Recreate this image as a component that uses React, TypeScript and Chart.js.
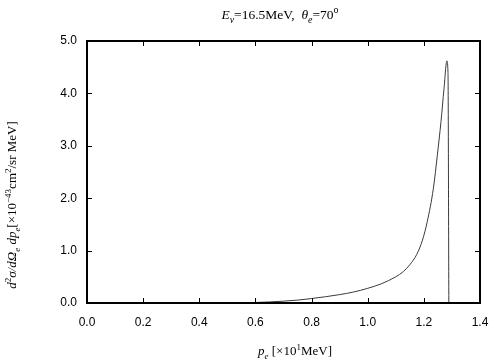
import React, { useEffect, useRef } from "react";
import { Chart, registerables } from "chart.js";

Chart.register(...registerables);

// momentum p_e [x10 MeV]
const momentum: number[] = [0.55, 0.6, 0.65, 0.7, 0.75, 0.8, 0.85, 0.9, 0.95, 1.0, 1.05, 1.1, 1.127, 1.15, 1.175, 1.195, 1.212, 1.234, 1.248, 1.261, 1.272, 1.282, 1.286, 1.289];
// cross section [x10^-43 cm^2/sr MeV]
const crossSection: number[] = [0.0, 0.01, 0.02, 0.035, 0.055, 0.085, 0.12, 0.16, 0.21, 0.28, 0.37, 0.5, 0.6, 0.73, 0.93, 1.2, 1.55, 2.19, 2.82, 3.46, 4.1, 4.62, 4.4, 0.0];

const xTicks: number[] = [0, 0.2, 0.4, 0.6, 0.8, 1.0, 1.2, 1.4];
const yTicks: number[] = [0, 1, 2, 3, 4, 5];

type Seg = { t: string; it?: boolean; sub?: boolean; sup?: boolean };

const titleSegs: Seg[] = [
  { t: "E", it: true },
  { t: "ν", it: true, sub: true },
  { t: "=16.5MeV,  " },
  { t: "θ", it: true },
  { t: "e", it: true, sub: true },
  { t: "=70" },
  { t: "o", sup: true },
];
const xLabelSegs: Seg[] = [
  { t: "p", it: true },
  { t: "e", it: true, sub: true },
  { t: " [×10" },
  { t: "1", sup: true },
  { t: "MeV]" },
];
const yLabelSegs: Seg[] = [
  { t: "d", it: true },
  { t: "2", sup: true },
  { t: "σ/dΩ", it: true },
  { t: "e", it: true, sub: true },
  { t: " dp", it: true },
  { t: "e", it: true, sub: true },
  { t: "[×10" },
  { t: "−43", sup: true },
  { t: "cm" },
  { t: "2", sup: true },
  { t: "/sr MeV]" },
];

const SERIF = '"Liberation Serif", "DejaVu Serif", serif';

function segFont(s: Seg, size: number) {
  const sz = s.sub || s.sup ? Math.round(size * 0.72) : size;
  return `${s.it ? "italic " : ""}${sz}px ${SERIF}`;
}

function drawSegs(ctx: CanvasRenderingContext2D, segs: Seg[], size: number, cx: number, baseY: number) {
  let total = 0;
  const widths = segs.map((s) => {
    ctx.font = segFont(s, size);
    const w = ctx.measureText(s.t).width;
    total += w;
    return w;
  });
  let x = cx - total / 2;
  ctx.textBaseline = "alphabetic";
  ctx.textAlign = "left";
  ctx.fillStyle = "#000";
  segs.forEach((s, i) => {
    ctx.font = segFont(s, size);
    const dy = s.sub ? size * 0.28 : s.sup ? -size * 0.42 : 0;
    ctx.fillText(s.t, x, baseY + dy);
    x += widths[i];
  });
}

const framePlugin = {
  id: "framePlugin",
  afterDraw(chart: any) {
    const { ctx, chartArea } = chart;
    const { left, right, top, bottom } = chartArea;
    const xs = chart.scales.x;
    const ys = chart.scales.y;
    ctx.save();
    ctx.strokeStyle = "#000";
    ctx.lineWidth = 1;
    const tl = 5;
    ctx.beginPath();
    xTicks.forEach((v) => {
      const px = Math.round(xs.getPixelForValue(v)) + 0.5;
      ctx.moveTo(px, bottom);
      ctx.lineTo(px, bottom - tl);
      ctx.moveTo(px, top);
      ctx.lineTo(px, top + tl);
    });
    yTicks.forEach((v) => {
      const py = Math.round(ys.getPixelForValue(v)) + 0.5;
      ctx.moveTo(left, py);
      ctx.lineTo(left + tl, py);
      ctx.moveTo(right, py);
      ctx.lineTo(right - tl, py);
    });
    ctx.stroke();
    ctx.lineWidth = 2;
    ctx.strokeRect(left, top, right - left, bottom - top);

    drawSegs(ctx, titleSegs, 13.5, 280, 19);
    drawSegs(ctx, xLabelSegs, 13, 295, 355);
    ctx.translate(16, 205);
    ctx.rotate(-Math.PI / 2);
    drawSegs(ctx, yLabelSegs, 13, 0, 0);
    ctx.restore();
  },
};

export default function App() {
  const ref = useRef<HTMLCanvasElement>(null);
  useEffect(() => {
    if (!ref.current) return;
    const data = momentum.map((x, i) => ({ x, y: crossSection[i] }));
    const tickFont = { family: '"Liberation Sans", Arial, sans-serif', size: 12 };
    const chart = new Chart(ref.current, {
      type: "scatter",
      data: {
        datasets: [
          {
            data,
            showLine: true,
            borderColor: "#3a3a3a",
            borderWidth: 1,
            pointRadius: 0,
            cubicInterpolationMode: "monotone",
            fill: false,
          },
        ],
      },
      plugins: [framePlugin],
      options: {
        animation: false,
        responsive: false,
        events: [],
        layout: { padding: { top: 41, right: 24, left: 0, bottom: 0 } },
        plugins: { legend: { display: false }, tooltip: { enabled: false }, title: { display: false } },
        scales: {
          x: {
            type: "linear",
            min: 0,
            max: 1.4,
            afterFit: (s: any) => {
              s.height = 57;
            },
            afterBuildTicks: (s: any) => {
              s.ticks = xTicks.map((v) => ({ value: v }));
            },
            grid: { display: false, drawTicks: false },
            border: { display: false },
            ticks: { font: tickFont, color: "#000", padding: 12, maxRotation: 0, callback: (v: any) => Number(v).toFixed(1) },
          },
          y: {
            type: "linear",
            min: 0,
            max: 5,
            afterFit: (s: any) => {
              s.width = 87;
            },
            afterBuildTicks: (s: any) => {
              s.ticks = yTicks.map((v) => ({ value: v }));
            },
            grid: { display: false, drawTicks: false },
            border: { display: false },
            ticks: { font: tickFont, color: "#000", padding: 10, callback: (v: any) => Number(v).toFixed(1) },
          },
        },
      },
    } as any);
    return () => chart.destroy();
  }, []);
  return (
    <div style={{ position: "absolute", left: 0, top: 0, width: 504, height: 360, background: "#fff" }}>
      <canvas ref={ref} width={504} height={360} style={{ width: 504, height: 360, display: "block" }} />
    </div>
  );
}
